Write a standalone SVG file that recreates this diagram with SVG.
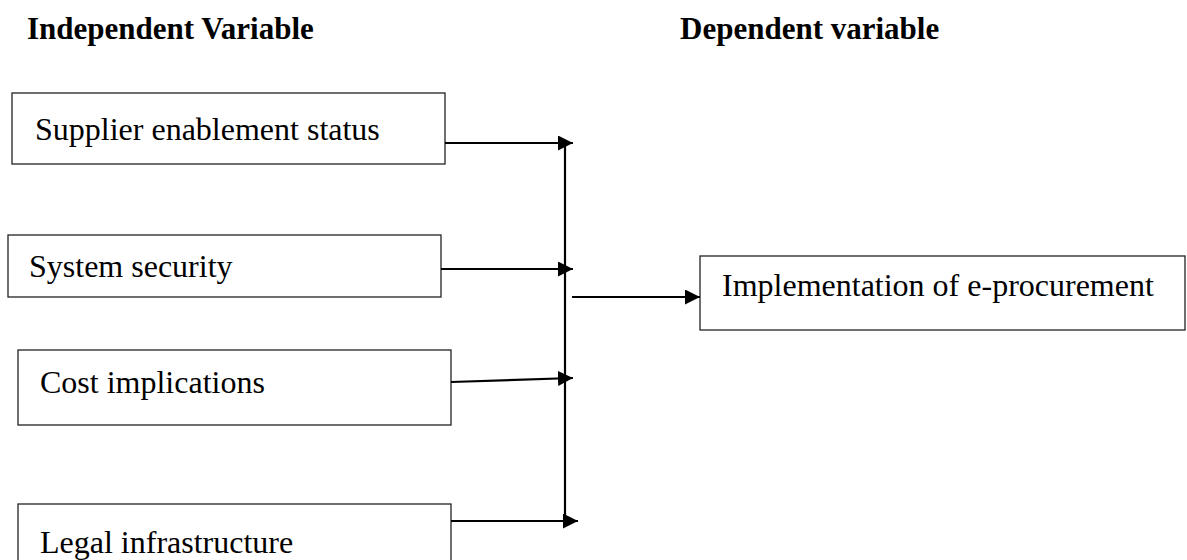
<svg xmlns="http://www.w3.org/2000/svg" width="1187" height="560" viewBox="0 0 1187 560">
<style>
.bg{fill:#fff}
.box{fill:#fff;stroke:#222;stroke-width:1.3}
.t{font-family:"Liberation Serif","Times New Roman",serif;font-size:32px;fill:#000}
.h{font-family:"Liberation Serif","Times New Roman",serif;font-size:31px;font-weight:bold;fill:#000}
.c{stroke:#000;stroke-width:2.2;fill:none}
</style>
<defs>
<marker id="ah" markerUnits="userSpaceOnUse" markerWidth="16" markerHeight="16" refX="15" refY="7.5" orient="auto">
<path d="M0,0 L15,7.5 L0,15 z" fill="#000"/>
</marker>
</defs>
<rect class="bg" x="0" y="0" width="1187" height="560"/>
<text class="h" x="27" y="39">Independent Variable</text>
<text class="h" x="680" y="39">Dependent variable</text>
<g id="node-supplier">
<rect class="box" x="12" y="93" width="433" height="71"/>
<text class="t" x="35" y="140">Supplier enablement status</text>
</g>
<g id="node-security">
<rect class="box" x="8" y="235" width="433" height="62"/>
<text class="t" x="29" y="277">System security</text>
</g>
<g id="node-cost">
<rect class="box" x="18" y="350" width="433" height="75"/>
<text class="t" x="40" y="393">Cost implications</text>
</g>
<g id="node-legal">
<rect class="box" x="18" y="504" width="433" height="70"/>
<text class="t" x="40" y="553">Legal infrastructure</text>
</g>
<g id="node-implementation">
<rect class="box" x="700" y="256" width="485" height="74"/>
<text class="t" x="722" y="296">Implementation of e-procurement</text>
</g>
<g id="connectors">
<line class="c" x1="565" y1="143" x2="565" y2="521"/>
<line class="c" x1="445" y1="143" x2="573" y2="143" marker-end="url(#ah)"/>
<line class="c" x1="441" y1="269" x2="573" y2="269" marker-end="url(#ah)"/>
<line class="c" x1="451" y1="382" x2="573" y2="378" marker-end="url(#ah)"/>
<line class="c" x1="451" y1="521" x2="578" y2="521" marker-end="url(#ah)"/>
<line class="c" x1="572" y1="297" x2="700" y2="297" marker-end="url(#ah)"/>
</g>
</svg>
